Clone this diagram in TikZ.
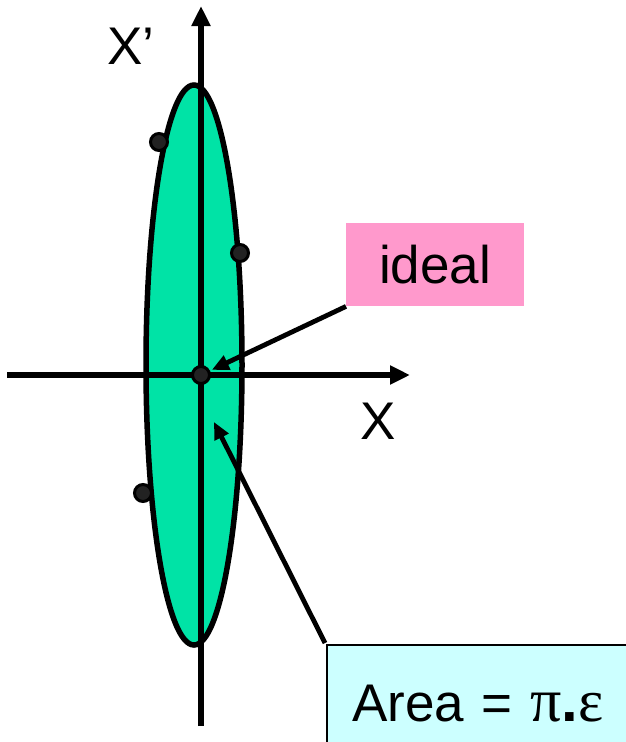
\documentclass[tikz,border=0pt]{standalone}
\usepackage{fontspec}
\setmainfont{Liberation Sans}
\newfontfamily\symfont{Liberation Serif}
\usetikzlibrary{arrows.meta}
\definecolor{ellgreen}{HTML}{00E3A6}
\definecolor{idealpink}{HTML}{FF99CC}
\definecolor{areacyan}{HTML}{CCFFFF}
\definecolor{dotgray}{HTML}{222222}
\begin{document}
\begin{tikzpicture}[x=1pt,y=-1pt,
  axis/.style={line width=5.5pt,-{Triangle[length=20pt,width=18pt]}},
  pointer/.style={line width=4.8pt,-{Triangle[length=17pt,width=15pt]}},
  dotnode/.style={circle,draw=black,line width=3pt,fill=dotgray,inner sep=0pt,minimum size=17pt},
  bigtext/.style={font=\fontsize{53}{60}\selectfont,inner sep=0pt}]
\useasboundingbox (0,0) rectangle (626,742);
% ellipse
\draw[line width=5.5pt,fill=ellgreen] (194,365) ellipse [x radius=48, y radius=280];
% axes
\coordinate (yb) at (201,726);
\coordinate (yt) at (201,6);
\coordinate (xl) at (7,375);
\coordinate (xr) at (410,375);
\draw[axis] (yb) -- (yt);
\draw[axis] (xl) -- (xr);
% labels
\node[bigtext] (lxp) at (131,46) {X’};
\node[bigtext] (lx) at (378,421) {X};
% dots
\node[dotnode] (p1) at (159,142) {};
\node[dotnode] (p2) at (240,253) {};
\node[dotnode] (p0) at (201,375) {};
\node[dotnode] (p3) at (143,493) {};
% boxes
\node[fill=idealpink,minimum width=178pt,minimum height=83pt,inner sep=0pt,anchor=north west] (ideal) at (346,223) {};
\node[bigtext] (idealtxt) at (ideal.center) {ideal};
\coordinate (areatip) at (214,422);
\draw[pointer,shorten >=2pt] (ideal.south west) -- (p0);
\draw[pointer] (325,643) -- (areatip);
\fill[areacyan] (327,645) rectangle (640,760);
\draw[line width=2pt] (327,760) -- (327,645) -- (640,645);
\node[bigtext,anchor=center] (area) at (478,704) {Area\,\,=\,\,{\symfont\fontsize{62}{60}\selectfont π}{\fontsize{60}{60}\selectfont\bfseries .}{\symfont\fontsize{60}{60}\selectfont ε}};
\end{tikzpicture}
\end{document}
